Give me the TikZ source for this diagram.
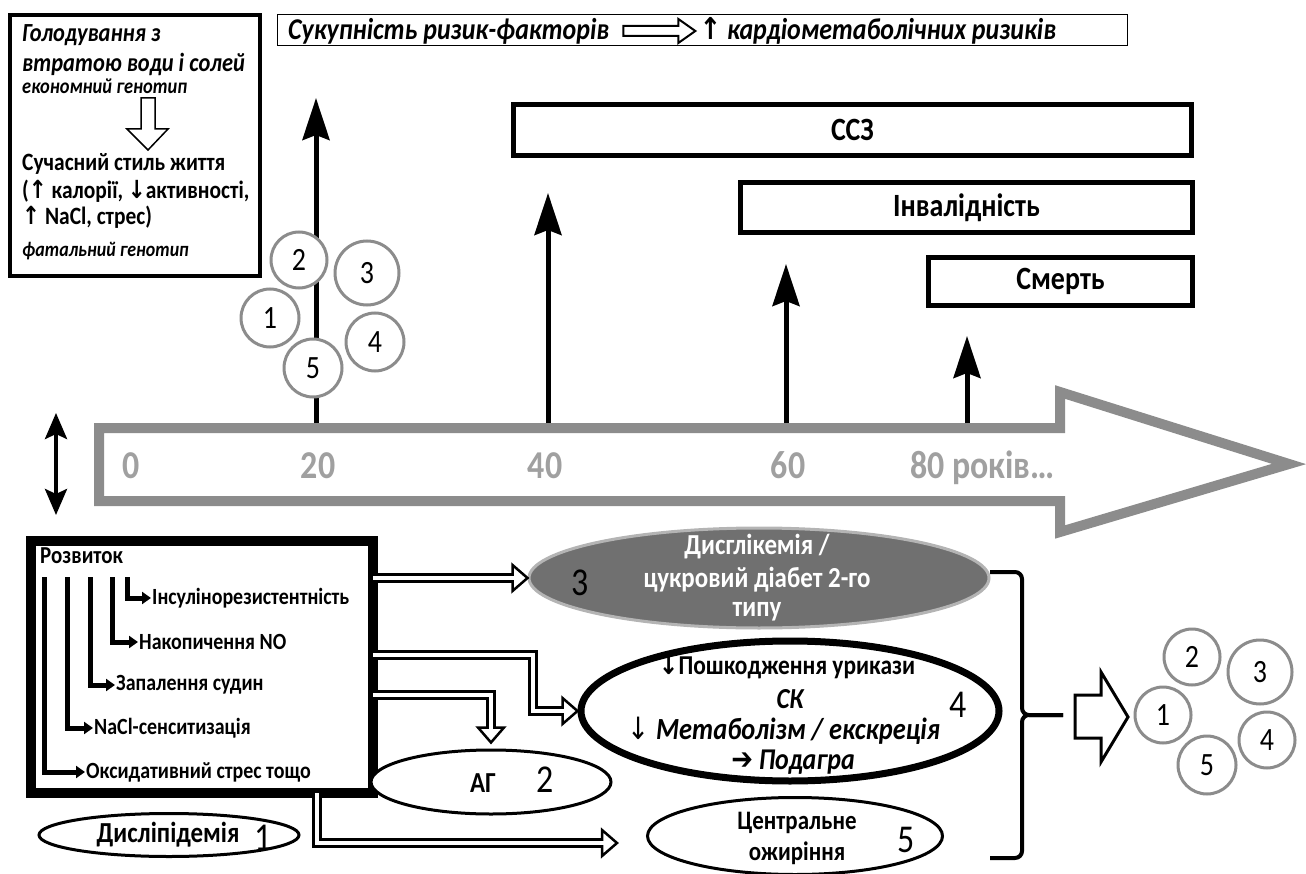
\documentclass[tikz,border=0pt]{standalone}
\usepackage{fontspec}
\setmainfont{Carlito}[FakeStretch=0.86]
\newfontfamily\sym{DejaVu Sans}[FakeStretch=0.86]
\usetikzlibrary{arrows.meta,shapes.geometric,calc}
\definecolor{cgray}{HTML}{8C8C8C}
\definecolor{tgray}{HTML}{A0A0A0}
\definecolor{egray}{HTML}{707070}
\definecolor{eborder}{HTML}{B4B4B4}
\newcommand\fsz[1]{\fontsize{\fpeval{1.16*#1}}{\fpeval{1.2*#1}}\selectfont}
\newcommand\dhead[2]{\begin{scope}[shift={#1},rotate=#2]
  \filldraw[fill=white,line width=2.5pt,line join=miter] (-15,-13) -- (0,0) -- (-15,13) -- cycle;
  \draw[white,line width=4.5pt] (-19,0) -- (-12,0);
\end{scope}}
\begin{document}
\begin{tikzpicture}[x=1pt,y=-1pt,
  box/.style={draw,line width=5pt,inner sep=0,font=\bfseries\fsz{28}},
  circ/.style={circle,draw=cgray,line width=3pt,fill=white,inner sep=0,font=\fsz{28}},
  varrow/.style={line width=5pt,-{Stealth[length=42pt,width=27pt,inset=5pt]}},
  tree/.style={line width=5pt,line join=miter,-{Triangle[length=9pt,width=12pt]}},
  tt/.style={font=\bfseries\fsz{20},inner sep=1pt,anchor=west},
  lbl/.style={anchor=base west,inner sep=0},
  num/.style={inner sep=0,font=\fsz{34}},
  tl/.style={font=\bfseries\fsz{34},text=tgray,inner sep=0,anchor=base},
  dshaft/.style={line width=10pt,line join=miter,postaction={draw,white,line width=4.5pt}},
  ell/.style={ellipse,draw,line width=3pt,fill=white,inner sep=0}]
\useasboundingbox (0,0) rectangle (1306,874);

% ---------- top-left box ----------
\node[draw,line width=4pt,minimum width=250pt,minimum height=261pt,inner sep=0] (tlbox) at (135,145.5) {};
\node[lbl,font=\bfseries\itshape\fsz{22.5}] (g1) at (22,42) {Голодування з};
\node[lbl,font=\bfseries\itshape\fsz{22.5}] (g2) at (22,72) {втратою води і солей};
\node[lbl,font=\bfseries\itshape\fsz{18.5}] (g3) at (22,94) {економний генотип};
\draw[line width=1.5pt,line join=miter,fill=white] (141,98) -- (155,98) -- (155,129) -- (168,129) -- (148,150) -- (127,129) -- (141,129) -- cycle;
\node[lbl,font=\bfseries\fsz{21.5}] (s1) at (22,171) {Сучасний стиль життя};
\node[lbl,font=\bfseries\fsz{21.5}] (s2) at (22,199) {({\sym ↑} калорії, {\sym ↓}активності,};
\node[lbl,font=\bfseries\fsz{21.5}] (s3) at (22,225) {{\sym ↑} NaCl, стрес)};
\node[lbl,font=\bfseries\itshape\fsz{18}] (s4) at (22,257) {фатальний генотип};

% ---------- banner ----------
\node[draw,line width=1.5pt,minimum width=850pt,minimum height=31pt,inner sep=0] (banner) at (702.5,30) {};
\node[font=\bfseries\itshape\fsz{26},anchor=west,inner sep=0] (bt1) at (288,31) {Сукупність ризик-факторів};
\begin{scope}[shift={($(bt1.east)+(14,0)$)}]
  \draw[line width=2pt,line join=miter] (0,-5) -- (55,-5) -- (55,-12) -- (72,0) -- (55,12) -- (55,5) -- (0,5) -- cycle;
\end{scope}
\node[font=\bfseries\itshape\fsz{26},anchor=west,inner sep=0] (bt2) at ($(bt1.east)+(90,0)$) {{\sym\upshape ↑} кардіометаболічних ризиків};

% ---------- outcome boxes ----------
\node[box,minimum width=678pt,minimum height=51pt] (ssz) at (852.5,130) {ССЗ};
\node[box,minimum width=452pt,minimum height=50pt] (inv) at (966.5,207.5) {Інвалідність};
\node[box,minimum width=264pt,minimum height=48pt] (death) at (1060.5,281.5) {Смерть};

% ---------- timeline ----------
\draw[cgray,line width=10pt,fill=white,line join=miter] (99,428) -- (1060,428) -- (1060,392) -- (1289,464) -- (1060,532) -- (1060,501) -- (99,501) -- cycle;
\node[tl] (t0) at (131,478) {0};
\node[tl] (t20) at (318,478) {20};
\node[tl] (t40) at (545,478) {40};
\node[tl] (t60) at (788,478) {60};
\node[tl,anchor=base west] (t80) at (910,478) {80 років…};

% ---------- vertical arrows ----------
\coordinate (b20) at (316,423); \coordinate (a20) at (316,98);
\coordinate (b40) at (548,423); \coordinate (a40) at (548,193);
\coordinate (b60) at (786,423); \coordinate (a60) at (786,264);
\coordinate (b80) at (967,423); \coordinate (a80) at (967,336);
\draw[varrow] (b20) -- (a20);
\draw[varrow] (b40) -- (a40);
\draw[varrow] (b60) -- (a60);
\draw[varrow] (b80) -- (a80);

% circles cluster A
\node[circ,minimum size=56pt] (ca2) at (299,260) {2};
\node[circ,minimum size=64pt] (ca3) at (367,273) {3};
\node[circ,minimum size=58pt] (ca1) at (270,318) {1};
\node[circ,minimum size=58pt] (ca4) at (375,342) {4};
\node[circ,minimum size=58pt] (ca5) at (313,368) {5};

% double vertical arrow
\coordinate (da1) at (56,413); \coordinate (da2) at (56,515);
\draw[line width=4pt,{Stealth[length=26pt,width=22pt,inset=5pt]}-{Stealth[length=26pt,width=22pt,inset=5pt]}] (da1) -- (da2);

% ---------- development box ----------
\node[draw,line width=10pt,minimum width=342pt,minimum height=252pt,inner sep=0,anchor=north west] (dev) at (26,536) {};
\node[lbl,font=\bfseries\fsz{21}] (razv) at (40,563) {Розвиток};
\node[tt] (ins) at (151,598) {Інсулінорезистентність};
\node[tt] (nak) at (138,642) {Накопичення NO};
\node[tt] (zap) at (115,685) {Запалення судин};
\node[tt] (nacl) at (93,728) {NaCl-сенситизація};
\node[tt] (oks) at (85,772) {Оксидативний стрес тощо};
\draw[tree] (127,577) |- (ins.west);
\draw[tree] (112,577) |- (nak.west);
\draw[tree] (90,577) |- (zap.west);
\draw[tree] (67,577) |- (nacl.west);
\draw[tree] (44,577) |- (oks.west);

% ---------- ellipses ----------
\node[ellipse,draw=eborder,fill=egray,line width=3pt,minimum width=460pt,minimum height=100pt,inner sep=0] (e3) at (759,578) {};
\node[font=\bfseries\fsz{25},text=white,inner sep=0] at (757,547) {Дисглікемія /};
\node[font=\bfseries\fsz{25},text=white,inner sep=0] at (757,580) {цукровий діабет 2-го};
\node[font=\bfseries\fsz{25},text=white,inner sep=0] at (757,612) {типу};
\node[num] at (580,583) {3};

\node[ell,line width=7pt,minimum width=418pt,minimum height=140pt] (e4) at (790,711) {};
\node[font=\bfseries\fsz{23.5},inner sep=0] at (787,667) {{\sym ↓}Пошкодження урикази};
\node[font=\bfseries\itshape\fsz{25},inner sep=0] at (790,699) {СК};
\node[font=\bfseries\itshape\fsz{26.5},inner sep=0] at (784,731) {{\sym\upshape\mdseries ↓} Метаболізм / екскреція};
\node[font=\bfseries\itshape\fsz{26},inner sep=0] at (793,762) {{\sym\upshape ➔} Подагра};
\node[num] at (958,705) {4};

\node[ell,minimum width=240pt,minimum height=64pt] (e2) at (491,782) {};
\node[font=\bfseries\fsz{25},inner sep=0] at (483,783) {АГ};
\node[num] at (545,780) {2};

\node[ell,minimum width=295pt,minimum height=77pt] (e5) at (795,836) {};
\node[font=\bfseries\fsz{23},inner sep=0] at (797,823) {Центральне};
\node[font=\bfseries\fsz{23},inner sep=0] at (797,853) {ожиріння};
\node[num] at (906,840) {5};

\node[ell,minimum width=260pt,minimum height=43pt] (e1) at (169,835) {};
\node[font=\bfseries\fsz{25},inner sep=0] at (168,835) {Дисліпідемія};
\node[num] at (263,838) {1};

% ---------- double-line arrows ----------
\draw[dshaft] (373,578) -- ($(e3.west)+(-14,0)$);
\dhead{(e3.west)}{0}
\draw[dshaft] (373,655) -| (533,711) -- ($(e4.west)+(-14,0)$);
\dhead{(e4.west)}{0}
\coordinate (tip3) at ($(e2.north)+(0,-6)$);
\draw[dshaft] (373,695) -| ($(tip3)+(0,-14)$);
\dhead{(tip3)}{-90}
\coordinate (tip4) at (617,843);
\draw[dshaft] (317,793) |- ($(tip4)+(-14,0)$);
\dhead{(tip4)}{0}

% ---------- brace ----------
\coordinate (brt) at (990,572); \coordinate (brb) at (990,858); \coordinate (brm) at (1063,715);
\draw[line width=4pt,rounded corners=7pt] (brt) -- (1022,572) -- (1022,715) -- (brm);
\draw[line width=4pt,rounded corners=7pt] (brb) -- (1022,858) -- (1022,715) -- (brm);

% block arrow
\draw[line width=3pt,line join=miter,fill=white] (1075,695) -- (1101,695) -- (1101,672) -- (1128,717) -- (1101,762) -- (1101,738) -- (1075,738) -- cycle;

% circles cluster B
\node[circ,minimum size=56pt] (cb2) at (1192,657) {2};
\node[circ,minimum size=64pt] (cb3) at (1260,672) {3};
\node[circ,minimum size=56pt] (cb1) at (1163,715) {1};
\node[circ,minimum size=56pt] (cb4) at (1267,740) {4};
\node[circ,minimum size=58pt] (cb5) at (1207,765) {5};
\end{tikzpicture}
\end{document}
